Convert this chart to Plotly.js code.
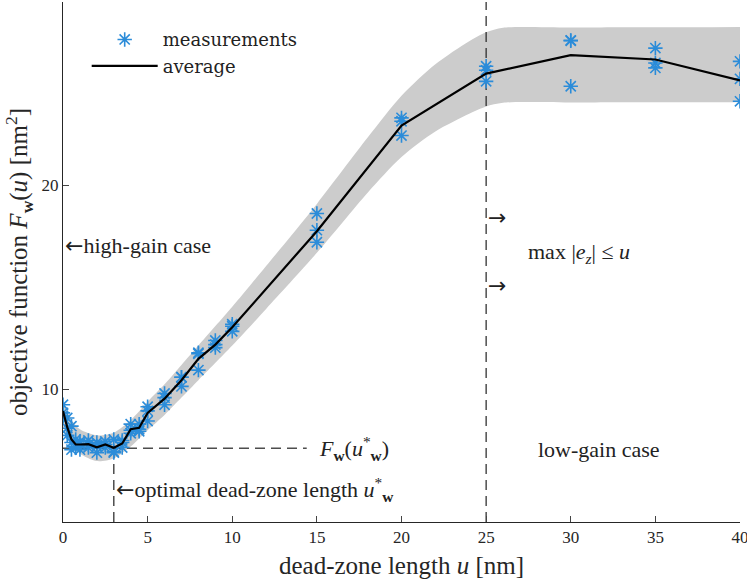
<!DOCTYPE html>
<html>
<head>
<meta charset="utf-8">
<script src="https://cdn.plot.ly/plotly-3.0.1.min.js"></script>
<style>html,body{margin:0;padding:0;background:#fff;}#chart{width:747px;height:583px;}</style>
</head>
<body>
<div id="chart"></div>
<script>
// measurement positions (dead-zone length u, nm) and three measurements each
const measU = [0,0.25,0.5,0.75,1,1.5,2,2.5,3,3.5,4,4.5,5,6,7,8,9,10,15,20,25,30,35,40];
const meas1 = [9.25,8.6,8.2,7.55,7.45,7.5,7.4,7.45,7.55,7.5,8.3,8.3,9.15,9.8,10.6,11.8,12.4,13.2,18.63,23.32,25.85,27.12,26.74,26.09];
const meas2 = [8.85,8.1,7.4,7.2,7.35,7.3,7.2,7.3,6.95,7.4,8.0,8.05,8.95,9.6,10.6,11.75,12.2,13.1,17.81,23.15,25.65,27.1,26.01,25.23];
const meas3 = [8.7,7.75,7.05,7.15,7.05,7.15,6.9,7.15,6.9,7.15,7.85,7.95,8.45,9.25,10.15,10.95,12.05,12.85,17.22,22.45,25.11,24.87,25.77,24.13];
// average curve
const avgU = [0,0.25,0.5,0.75,1,1.5,2,2.5,3,3.5,4,4.5,5,6,7,8,9,10,15,20,25,30,35,40];
const avgF = [8.94,8.15,7.55,7.3,7.3,7.32,7.16,7.3,7.14,7.35,8.05,8.12,8.85,9.55,10.45,11.5,12.2,13.05,17.76,22.94,25.49,26.39,26.18,25.16];
// confidence band
const bandU  = [0,0.5,1,2,3,4,5,6,7,8,10,12,15,18,20,22,24,25,26,30,35,40];
const bandLo = [8.15,7.28,6.85,6.49,6.62,7.2,8.0,8.75,9.6,10.45,12.15,13.95,16.7,19.65,21.4,22.65,23.52,23.88,24.06,24.07,24.08,24.08];
const bandHi = [9.45,8.52,8.05,7.75,7.88,8.5,9.4,10.25,11.2,12.15,14.05,16.05,19.1,22.35,24.4,25.95,27.08,27.52,27.74,27.75,27.76,27.78];
// reference values
const optU = 3, optF = 7.12, splitU = 25, hLineEnd = 14.4;
const yMin = 3.5, yMax = 29;
const xTicks = [0,5,10,15,20,25,30,35,40];
const yTicks = [10,20];

const mU = [], mF = [];
for (let i = 0; i < measU.length; i++) {
  mU.push(measU[i], measU[i], measU[i]);
  mF.push(meas1[i], meas2[i], meas3[i]);
}

const serif = 'Liberation Serif';
const dashCol = '#4d4d4d';
const traces = [
  {x: bandU, y: bandLo, mode: 'lines', line: {width: 0, shape: 'spline', smoothing: 0.8}, showlegend: false, hoverinfo: 'skip'},
  {x: bandU, y: bandHi, mode: 'lines', line: {width: 0, shape: 'spline', smoothing: 0.8}, fill: 'tonexty', fillcolor: '#cccccc', showlegend: false, hoverinfo: 'skip'},
  {x: [0, hLineEnd], y: [optF, optF], mode: 'lines', line: {color: dashCol, width: 1.5, dash: '10px,6px'}, showlegend: false},
  {x: [optU, optU], y: [yMin, optF], mode: 'lines', line: {color: dashCol, width: 1.5, dash: '10px,6px'}, showlegend: false},
  {x: [splitU, splitU], y: [yMin, yMax], mode: 'lines', line: {color: '#222', width: 1.2, dash: '10px,6px'}, showlegend: false},
  {x: mU, y: mF, mode: 'markers', name: 'measurements',
   marker: {symbol: 'asterisk-open', size: 12, color: '#2b8cd9', line: {color: '#2b8cd9', width: 1.6}}},
  {x: avgU, y: avgF, mode: 'lines', name: 'average', line: {color: '#000', width: 2.2}}
];

const annFont = {family: serif, size: 22, color: '#222'};
const arrowFont = {family: 'DejaVu Sans', size: 22, color: '#222'};
const AL = '<span style="font-family:DejaVu Sans">←</span>';
const layout = {
  width: 747, height: 583,
  margin: {l: 63, r: 7, t: 2, b: 61},
  paper_bgcolor: '#fff', plot_bgcolor: '#fff',
  font: {family: serif, color: '#262626'},
  showlegend: true,
  legend: {x: 0.035, y: 0.963, xanchor: 'left', yanchor: 'top', bgcolor: 'rgba(0,0,0,0)', traceorder: 'normal',
           font: {family: 'DejaVu Serif', size: 18, color: '#222'}, itemwidth: 66, tracegroupgap: 0},
  xaxis: {range: [0, 40], tickvals: xTicks, ticktext: xTicks.map(String), ticks: 'inside', ticklen: 6,
          ticklabeloverflow: 'allow',
          showline: true, linecolor: '#262626', linewidth: 1, showgrid: false, zeroline: false,
          tickfont: {family: 'serif', size: 17, color: '#262626'},
          title: {text: 'dead-zone length <i>u</i> [nm]', font: {family: serif, size: 25, color: '#262626'}, standoff: 10}},
  yaxis: {range: [yMin, yMax], tickvals: yTicks, ticktext: yTicks.map(String), ticks: 'inside', ticklen: 6,
          showline: true, linecolor: '#262626', linewidth: 1, showgrid: false, zeroline: false,
          tickfont: {family: 'serif', size: 17, color: '#262626'},
          title: {text: 'objective function <i>F</i><sub><b>w</b></sub>(<i>u</i>) [nm<sup>2</sup>]', font: {family: serif, size: 25, color: '#262626'}, standoff: 6}},
  annotations: [
    {x: 0, y: 17.06, xref: 'x', yref: 'y', text: AL + 'high-gain case', showarrow: false, xanchor: 'left', yanchor: 'middle', font: annFont},
    {x: optU, y: 5.1, xref: 'x', yref: 'y', text: AL + 'optimal dead-zone length <i>u</i><sup>*</sup><sub><b>w</b></sub>', showarrow: false, xanchor: 'left', yanchor: 'middle', font: annFont},
    {x: hLineEnd + 0.6, y: optF, xref: 'x', yref: 'y', text: '<i>F</i><sub><b>w</b></sub>(<i>u</i><sup>*</sup><sub><b>w</b></sub>)', showarrow: false, xanchor: 'left', yanchor: 'middle', font: annFont},
    {x: 31.67, y: 7.06, xref: 'x', yref: 'y', text: 'low-gain case', showarrow: false, xanchor: 'center', yanchor: 'middle', font: annFont},
    {x: 30.5, y: 16.7, xref: 'x', yref: 'y', text: 'max |<i>e</i><sub><i>z</i></sub>| ≤ <i>u</i>', showarrow: false, xanchor: 'center', yanchor: 'middle', font: annFont},
    {x: splitU, y: 18.43, xref: 'x', yref: 'y', text: '→', showarrow: false, xanchor: 'left', yanchor: 'middle', font: arrowFont},
    {x: splitU, y: 15.1, xref: 'x', yref: 'y', text: '→', showarrow: false, xanchor: 'left', yanchor: 'middle', font: arrowFont}
  ]
};

Plotly.newPlot('chart', traces, layout, {displayModeBar: false, staticPlot: true});
</script>
</body>
</html>
